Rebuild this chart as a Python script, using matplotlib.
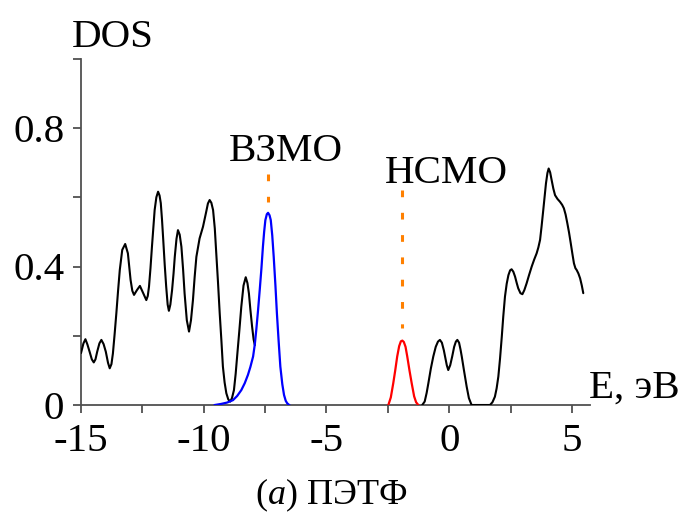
import matplotlib
matplotlib.use("Agg")
import matplotlib.pyplot as plt

plt.rcParams['font.family'] = ['Liberation Serif', 'DejaVu Serif']
plt.rcParams['mathtext.fontset'] = 'custom'
plt.rcParams['mathtext.it'] = 'Liberation Serif:italic'
plt.rcParams['mathtext.rm'] = 'Liberation Serif'

# ---- data ----
black_left_e = [-15.00, -14.90, -14.82, -14.74, -14.65, -14.56, -14.48, -14.41, -14.34, -14.25,
                -14.17, -14.08, -13.99, -13.90, -13.83, -13.76, -13.70, -13.63, -13.56, -13.49,
                -13.42, -13.32, -13.20, -13.09, -12.98, -12.91, -12.84, -12.72, -12.60, -12.46,
                -12.34, -12.28, -12.23, -12.17, -12.11, -12.05, -12.00, -11.93, -11.86, -11.80,
                -11.75, -11.70, -11.65, -11.59, -11.53, -11.47, -11.42, -11.36, -11.29, -11.23,
                -11.18, -11.11, -11.05, -10.98, -10.91, -10.84, -10.78, -10.69, -10.60, -10.52,
                -10.44, -10.37, -10.30, -10.17, -10.03, -9.90, -9.83, -9.76, -9.69, -9.62,
                -9.55, -9.49, -9.42, -9.35, -9.28, -9.22, -9.15, -9.08, -9.00, -8.92,
                -8.85, -8.77, -8.70, -8.63, -8.55, -8.47, -8.38, -8.29, -8.22, -8.16,
                -8.10, -8.03, -7.97, -7.92]
black_left_d = [0.150, 0.178, 0.190, 0.175, 0.154, 0.132, 0.123, 0.132, 0.154, 0.178,
                0.188, 0.176, 0.154, 0.122, 0.106, 0.118, 0.149, 0.205, 0.265, 0.330,
                0.390, 0.448, 0.465, 0.438, 0.361, 0.330, 0.318, 0.332, 0.344, 0.322,
                0.303, 0.315, 0.342, 0.395, 0.457, 0.515, 0.563, 0.600, 0.616, 0.605,
                0.583, 0.535, 0.477, 0.405, 0.342, 0.290, 0.272, 0.290, 0.332, 0.380,
                0.428, 0.480, 0.505, 0.492, 0.457, 0.390, 0.322, 0.245, 0.212, 0.245,
                0.303, 0.370, 0.428, 0.481, 0.515, 0.558, 0.582, 0.592, 0.584, 0.563,
                0.510, 0.438, 0.355, 0.265, 0.185, 0.111, 0.065, 0.034, 0.016, 0.010,
                0.020, 0.043, 0.090, 0.149, 0.215, 0.284, 0.345, 0.369, 0.352, 0.322,
                0.275, 0.226, 0.190, 0.173]

homo_e = [-9.55, -9.30, -9.05, -8.81, -8.64, -8.47, -8.33, -8.20, -8.10, -7.99,
          -7.92, -7.86, -7.79, -7.72, -7.65, -7.59, -7.54, -7.49, -7.43, -7.38,
          -7.32, -7.27, -7.21, -7.15, -7.08, -7.02, -6.95, -6.88, -6.80, -6.73,
          -6.66, -6.60, -6.52]
homo_d = [0.000, 0.003, 0.007, 0.014, 0.026, 0.043, 0.063, 0.087, 0.110, 0.140,
          0.175, 0.217, 0.272, 0.332, 0.395, 0.457, 0.500, 0.534, 0.551, 0.555,
          0.548, 0.534, 0.490, 0.428, 0.345, 0.265, 0.185, 0.111, 0.060, 0.029,
          0.012, 0.005, 0.000]

lumo_e = [-2.48, -2.38, -2.28, -2.20, -2.12, -2.04, -1.97, -1.91, -1.85, -1.78,
          -1.71, -1.62, -1.53, -1.43, -1.35, -1.26]
lumo_d = [0.000, 0.022, 0.063, 0.100, 0.140, 0.170, 0.184, 0.186, 0.182, 0.168,
          0.140, 0.100, 0.063, 0.025, 0.008, 0.000]

black_right_e = [-1.10, -1.00, -0.92, -0.85, -0.75, -0.65, -0.55, -0.46, -0.38, -0.30,
                 -0.22, -0.17, -0.10, -0.04, 0.04, 0.12, 0.20, 0.27, 0.33, 0.40,
                 0.46, 0.51, 0.60, 0.71, 0.80, 0.91, 1.66, 1.76, 1.86, 1.93,
                 2.00, 2.07, 2.14, 2.20, 2.27, 2.34, 2.41, 2.48, 2.54, 2.61,
                 2.68, 2.75, 2.81, 2.90, 2.98, 3.06, 3.15, 3.25, 3.36, 3.46,
                 3.56, 3.63, 3.70, 3.76, 3.83, 3.89, 3.94, 4.00, 4.05, 4.11,
                 4.17, 4.24, 4.31, 4.41, 4.51, 4.60, 4.67, 4.74, 4.81, 4.88,
                 4.95, 5.02, 5.08, 5.14, 5.19, 5.26, 5.33, 5.40, 5.46]
black_right_d = [0.000, 0.010, 0.035, 0.063, 0.105, 0.140, 0.168, 0.183, 0.188, 0.180,
                 0.158, 0.140, 0.115, 0.101, 0.115, 0.140, 0.168, 0.183, 0.188, 0.180,
                 0.160, 0.140, 0.100, 0.053, 0.020, 0.000, 0.000, 0.008, 0.024, 0.048,
                 0.082, 0.135, 0.197, 0.255, 0.313, 0.350, 0.375, 0.389, 0.392, 0.385,
                 0.371, 0.352, 0.337, 0.323, 0.320, 0.332, 0.351, 0.375, 0.400, 0.420,
                 0.438, 0.455, 0.477, 0.515, 0.563, 0.605, 0.640, 0.670, 0.683, 0.672,
                 0.650, 0.625, 0.606, 0.595, 0.587, 0.578, 0.568, 0.550, 0.525, 0.498,
                 0.467, 0.435, 0.409, 0.395, 0.390, 0.380, 0.366, 0.345, 0.323]

homo_level = -7.38
lumo_level = -1.91
homo_marker = [0.667, 0.585]
lumo_marker = [0.621, 0.221]

x_ticks = [-15, -12.5, -10, -7.5, -5, -2.5, 0, 2.5, 5]
x_tick_labels = ['-15', '', '-10', '', '-5', '', '0', '', '5']
y_ticks = [0, 0.2, 0.4, 0.6, 0.8, 1.0]
y_tick_labels = ['0', '', '0.4', '', '0.8', '']

# ---- figure ----
W, H = 681, 513
FS = 29.5
fig = plt.figure(figsize=(W / 100, H / 100), dpi=100)
ax = fig.add_axes([81 / W, 108 / H, 509.4 / W, 346.25 / H])

ax.plot(black_left_e, black_left_d, color='black', lw=1.5, solid_capstyle='round', zorder=3)
ax.plot(black_right_e, black_right_d, color='black', lw=1.5, solid_capstyle='round', zorder=3)
ax.plot(homo_e, homo_d, color='#0000ff', lw=1.6, zorder=4)
ax.plot(lumo_e, lumo_d, color='#ff0000', lw=1.6, zorder=4)

ax.plot([homo_level, homo_level], homo_marker, color='#ff8000', lw=2.2,
        dashes=(2.2, 5.1), solid_capstyle='butt', zorder=5)
ax.plot([lumo_level, lumo_level], lumo_marker, color='#ff8000', lw=2.2,
        dashes=(2.2, 5.1), solid_capstyle='butt', zorder=5)

ax.set_xlim(-15, 5.75)
ax.set_ylim(0, 1.0)
ax.set_xticks(x_ticks)
ax.set_xticklabels(x_tick_labels)
ax.set_yticks(y_ticks)
ax.set_yticklabels(y_tick_labels)

for s in ['top', 'right']:
    ax.spines[s].set_visible(False)
for s in ['left', 'bottom']:
    ax.spines[s].set_color('#505050')
    ax.spines[s].set_linewidth(1.3)
    ax.spines[s].set_zorder(2)
ax.tick_params(direction='out', length=6, width=1.3, color='#505050',
               labelsize=FS, labelcolor='black')
ax.tick_params(axis='y', pad=6)
ax.tick_params(axis='x', pad=7)
ax.patch.set_visible(False)

fig.text(72 / W, 1 - 47 / H, 'DOS', fontsize=FS, va='baseline', ha='left')
fig.text(589 / W, 1 - 398 / H, 'E, эВ', fontsize=FS, va='baseline', ha='left')
fig.text(286 / W, 1 - 161 / H, 'ВЗМО', fontsize=FS, va='baseline', ha='center')
fig.text(446 / W, 1 - 183 / H, 'НСМО', fontsize=FS, va='baseline', ha='center')
fig.text(331 / W, 1 - 504 / H, r'($\mathit{a}$) ПЭТФ', fontsize=26, va='baseline', ha='center')

fig.savefig('out.png', dpi=100)
